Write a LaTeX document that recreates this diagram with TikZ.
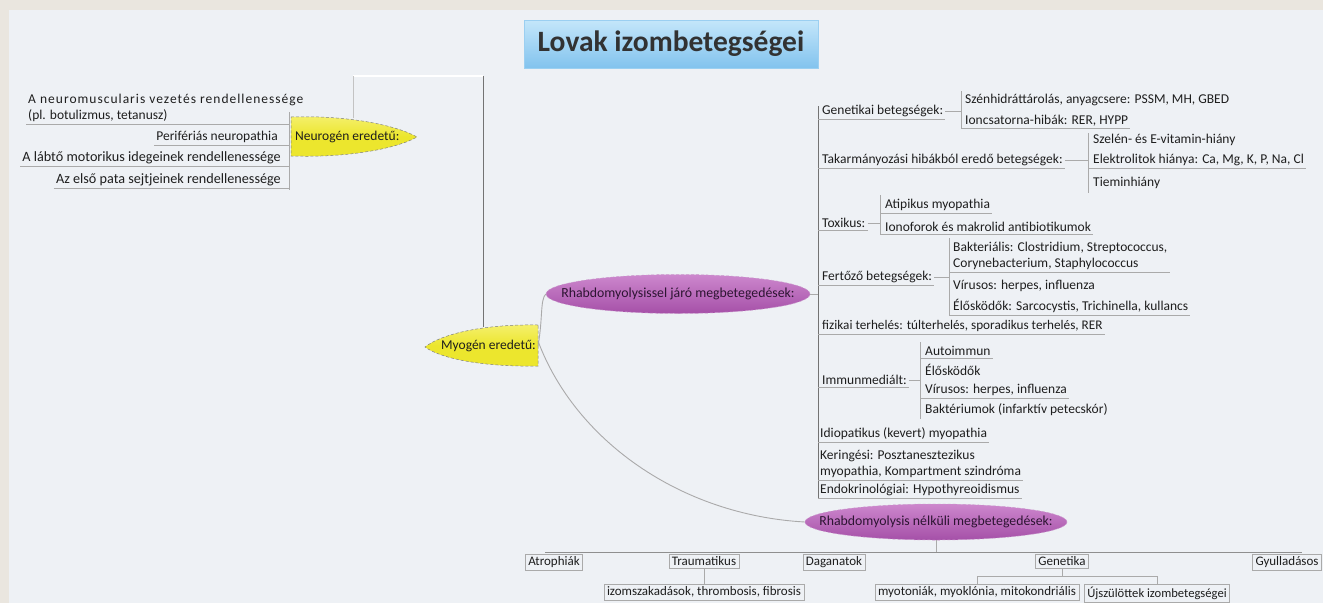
\documentclass[tikz,border=0pt]{standalone}
\usepackage{fontspec}
\setmainfont{Carlito}
\usetikzlibrary{shapes.geometric}
\definecolor{beige}{RGB}{234,230,223}
\definecolor{canvas}{RGB}{238,241,245}
\definecolor{ink}{RGB}{30,30,30}
\definecolor{linegray}{RGB}{115,115,115}
\definecolor{sublinegray}{RGB}{170,170,170}
\definecolor{leafyellow}{RGB}{236,230,45}
\definecolor{leafyellowB}{RGB}{245,240,110}
\definecolor{purpleA}{RGB}{205,135,205}
\definecolor{purpleB}{RGB}{165,80,168}
\definecolor{titleA}{RGB}{196,230,250}
\definecolor{titleB}{RGB}{130,195,238}
\newcommand\ulR[2]{\draw[ul] (#1.south -| #2) -- (#1.south east);}
\newcommand\ulL[2]{\draw[ul] (#1.south west) -- (#1.south -| #2);}
\tikzset{
  topic/.style={font=\fontsize{13.5}{16.5}\selectfont, text=ink, inner xsep=2pt, inner ysep=2pt, align=left},
  ul/.style={draw=sublinegray, line width=0.8pt},
  mainline/.style={draw=linegray, line width=0.9pt},
  softline/.style={draw=sublinegray, line width=0.9pt},
  leaf/.style={top color=leafyellowB, bottom color=leafyellow, middle color=leafyellow, draw=gray, densely dashed, line width=0.5pt},
  ovalfill/.style={top color=purpleA, bottom color=purpleB, draw=purpleB!60!white, densely dashed, line width=0.5pt},
  ovaltext/.style={inner sep=0pt, font=\fontsize{13.8}{16}\selectfont, text={rgb,255:red,45;green,20;blue,50}},
  bbox/.style={font=\fontsize{13}{15}\selectfont, text=ink, draw=sublinegray, line width=0.6pt, fill=canvas, inner xsep=3pt, inner ysep=2.5pt},
  titlebox/.style={minimum width=294pt, minimum height=48pt, top color=titleA, bottom color=titleB, draw=titleB!80!white, line width=0.4pt, font=\fontsize{29.5}{32}\selectfont\bfseries, text={rgb,255:red,50;green,50;blue,50}}
}
\begin{document}
\begin{tikzpicture}[x=1pt,y=-1pt]
\useasboundingbox (0,0) rectangle (1323,603);
\fill[beige] (0,0) rectangle (1323,603);
\fill[canvas] (9,10) rectangle (1323,603);

% title
\node[titlebox] (title) at (671,44) {Lovak izombetegségei};

% hub lines
\coordinate (hubL) at (353,76);
\coordinate (hubR) at (483,76);
\coordinate (neuroTop) at (353,118);
\coordinate (myoTop) at (483,327);
\draw[draw=white, line width=1.2pt] (hubL) -- (hubR);
\draw[draw=sublinegray!70!white, line width=1pt] (neuroTop) -- (hubL);
\draw[mainline] (hubR) -- (myoTop);

% Neurogen leaf
\path[leaf] (291,117) .. controls (350,115) and (398,126) .. (417,137) .. controls (398,148) and (350,158) .. (291,156) -- cycle;
\node[topic, anchor=west] (neuro) at (293,137) {Neurogén eredetű:};

% Myogen leaf
\path[leaf] (538,325) .. controls (480,324) and (440,335) .. (425,347) .. controls (440,358) and (480,367) .. (538,366) -- cycle;
\node[topic, anchor=east] (myo) at (538,346) {Myogén eredetű:};

% left children of Neurogen
\coordinate (lb1) at (289,112);
\coordinate (lb2) at (289,190);
\draw[ul] (lb1) -- (lb2);
\node[topic, anchor=south west] (l1) at (26,124) {{\addfontfeature{LetterSpace=7.5}A neuromuscularis vezetés rendellenessége}\\(pl. botulizmus, tetanusz)};
\node[topic, anchor=south east] (l2) at (280,145) {Perifériás neuropathia};
\node[topic, anchor=south east, font=\fontsize{14.2}{17}\selectfont] (l3) at (283,166) {A lábtő motorikus idegeinek rendellenessége};
\node[topic, anchor=south east, font=\fontsize{14.2}{17}\selectfont] (l4) at (283,188) {Az első pata sejtjeinek rendellenessége};
\ulL{l1}{lb1}\ulL{l2}{lb1}\ulL{l3}{lb1}\ulL{l4}{lb1}

% purple ovals
\coordinate (rh1c) at (678,294);
\coordinate (rh2c) at (936,522);
\path[ovalfill] (rh1c) ellipse [x radius=132pt, y radius=19.5pt];
\path[ovalfill] (rh2c) ellipse [x radius=131pt, y radius=18pt];
\node[ovaltext, minimum width=264pt, minimum height=39pt] (rh1) at (rh1c) {Rhabdomyolysissel járó megbetegedések:};
\node[ovaltext, minimum width=262pt, minimum height=36pt] (rh2) at (rh2c) {Rhabdomyolysis nélküli megbetegedések:};

\draw[softline] (myo.east) .. controls (543,318) and (540,300) .. (rh1.west);
\draw[softline] ([yshift=5pt]myo.east) .. controls (575,440) and (680,515) .. (rh2.west);

% main right bar
\coordinate (barT) at (818,106);
\coordinate (barB) at (818,498);
\draw[mainline] (barT) -- (barB);
\draw[softline] (rh1.east) -- (rh1.east -| barT);

% branch nodes
\node[topic, anchor=south west] (gen) at (820,119) {Genetikai betegségek:};
\node[topic, anchor=south west] (tak) at (820,168) {Takarmányozási hibákból eredő betegségek:};
\node[topic, anchor=south west] (tox) at (820,230) {Toxikus:};
\node[topic, anchor=south west] (fer) at (820,285) {Fertőző betegségek:};
\node[topic, anchor=south west, font=\fontsize{13.2}{16}\selectfont] (fiz) at (820,334) {fizikai terhelés: túlterhelés, sporadikus terhelés, RER};
\node[topic, anchor=south west] (imm) at (820,387) {Immunmediált:};
\node[topic, anchor=south west] (idio) at (818,442) {Idiopatikus (kevert) myopathia};
\node[topic, anchor=south west] (ker) at (818,480) {Keringési: Posztanesztezikus\\myopathia, Kompartment szindróma};
\node[topic, anchor=south west] (endo) at (818,498) {Endokrinológiai: Hypothyreoidismus};
\foreach \n in {gen,tak,tox,fer,fiz,imm,idio,ker,endo}{\ulR{\n}{barT}}

% Genetikai children
\coordinate (gb1) at (961,91);
\coordinate (gb2) at (961,129);
\draw[ul] (gb1) -- (gb2);
\draw[ul] (gen.east) -- (gen.east -| gb1);
\node[topic, anchor=south west] (g1) at (963,108) {Szénhidráttárolás, anyagcsere: PSSM, MH, GBED};
\node[topic, anchor=south west] (g2) at (963,128) {Ioncsatorna-hibák: RER, HYPP};
\ulR{g2}{gb1}

% Takarmanyozasi children
\coordinate (tb1) at (1088,133);
\coordinate (tb2) at (1088,193);
\draw[ul] (tb1) -- (tb2);
\draw[ul] (tak.east) -- (tak.east -| tb1);
\node[topic, anchor=south west] (t1) at (1091,148) {Szelén- és E-vitamin-hiány};
\node[topic, anchor=south west] (t2) at (1091,168) {Elektrolitok hiánya: Ca, Mg, K, P, Na, Cl};
\node[topic, anchor=south west] (t3) at (1091,191) {Tieminhiány};
\ulR{t2}{tb1}

% Toxikus children
\coordinate (xb1) at (880,195);
\coordinate (xb2) at (880,235);
\draw[ul] (xb1) -- (xb2);
\draw[ul] (tox.east) -- (tox.east -| xb1);
\node[topic, anchor=south west] (x1) at (883,213) {Atipikus myopathia};
\node[topic, anchor=south west] (x2) at (883,234) {Ionoforok és makrolid antibiotikumok};
\ulR{x1}{xb1}\ulR{x2}{xb1}

% Fertozo children
\coordinate (fb1) at (949,238);
\coordinate (fb2) at (949,316);
\draw[ul] (fb1) -- (fb2);
\draw[ul] (fer.east) -- (fer.east -| fb1);
\node[topic, anchor=south west] (f1) at (951,272) {Bakteriális: Clostridium, Streptococcus,\\Corynebacterium, Staphylococcus};
\node[topic, anchor=south west] (f2) at (951,294) {Vírusos: herpes, influenza};
\node[topic, anchor=south west] (f3) at (951,315) {Élősködők: Sarcocystis, Trichinella, kullancs};
\ulR{f1}{fb1}\ulR{f3}{fb1}

% Immunmedialt children
\coordinate (ib1) at (920,342);
\coordinate (ib2) at (920,419);
\draw[ul] (ib1) -- (ib2);
\draw[ul] (imm.east) -- (imm.east -| ib1);
\node[topic, anchor=south west] (i1) at (923,358) {Autoimmun};
\node[topic, anchor=south west] (i2) at (923,378) {Élősködők};
\node[topic, anchor=south west] (i3) at (923,398) {Vírusos: herpes, influenza};
\node[topic, anchor=south west] (i4) at (923,418) {Baktériumok (infarktív petecskór)};
\ulR{i1}{ib1}\ulR{i3}{ib1}

% bottom row
\coordinate (bbar) at (936,552);
\coordinate (bbL) at (545,552);
\coordinate (bbR) at (1302,552);
\draw[softline] (rh2.south) -- (bbar);
\draw[mainline, draw=linegray!80!white] (bbL) -- (bbR);
\node[bbox, anchor=north] (b1) at (554,554) {Atrophiák};
\node[bbox, anchor=north] (b2) at (704,554) {Traumatikus};
\node[bbox, anchor=north] (b3) at (834,554) {Daganatok};
\node[bbox, anchor=north] (b4) at (1062,554) {Genetika};
\node[bbox, anchor=north] (b5) at (1287,554) {Gyulladásos};
\node[bbox, anchor=north] (b21) at (704,584) {izomszakadások, thrombosis, fibrosis};
\node[bbox, anchor=north] (b41) at (977,584) {myotoniák, myoklónia, mitokondriális};
\node[bbox, anchor=north, font=\fontsize{12.6}{15}\selectfont] (b42) at (1157,584) {Újszülöttek izombetegségei};
\draw[softline] (b2.south) -- (b21.north);
\coordinate (gbar) at (1062,576);
\draw[softline] (b4.south) -- (gbar);
\draw[softline] (b41.north |- gbar) -- (b42.north |- gbar);
\draw[softline] (b41.north |- gbar) -- (b41.north);
\draw[softline] (b42.north |- gbar) -- (b42.north);
\end{tikzpicture}
\end{document}
